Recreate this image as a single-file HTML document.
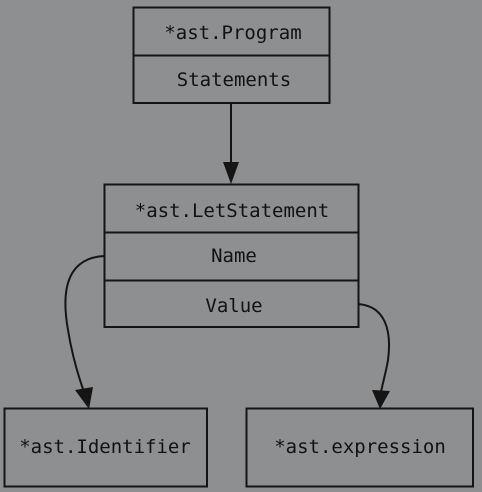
<!DOCTYPE html>
<html><head><style>
html,body{margin:0;padding:0;background:#8e8f91;}
svg{display:block}
text{font-family:"DejaVu Sans Mono","Liberation Mono",monospace;font-size:19px;fill:#111;text-anchor:middle;dominant-baseline:central}
</style></head><body>
<svg width="482" height="492" viewBox="0 0 482 492">
<g fill="none" stroke="#151515" stroke-width="2">
<rect x="133.5" y="7.5" width="196" height="95.5"/>
<line x1="133.5" y1="55.5" x2="329.5" y2="55.5"/>
<rect x="104.5" y="184.5" width="254" height="142.5"/>
<line x1="104.5" y1="232.5" x2="358.5" y2="232.5"/>
<line x1="104.5" y1="280.5" x2="358.5" y2="280.5"/>
<rect x="4.5" y="408.5" width="202.5" height="78"/>
<rect x="246.5" y="408.5" width="226.5" height="78"/>
<line x1="231" y1="103" x2="231" y2="165"/>
<path d="M104 256 C70 258 60 285 68 330 C72 355 78 375 84 392"/>
<path d="M358 304 C385 306 392 330 388 360 C386 372 383 382 381 392"/>
</g>
<g fill="#151515">
<polygon points="223,162 239,162 231,184"/>
<polygon points="75,390 93,387 89,409"/>
<polygon points="372,390 390,391 380,409"/>
</g>
<text x="233" y="33">*ast.Program</text>
<text x="234" y="80">Statements</text>
<text x="232" y="211">*ast.LetStatement</text>
<text x="234" y="256">Name</text>
<text x="234" y="306">Value</text>
<text x="105" y="447">*ast.Identifier</text>
<text x="360" y="447">*ast.expression</text>
</svg>
</body></html>
